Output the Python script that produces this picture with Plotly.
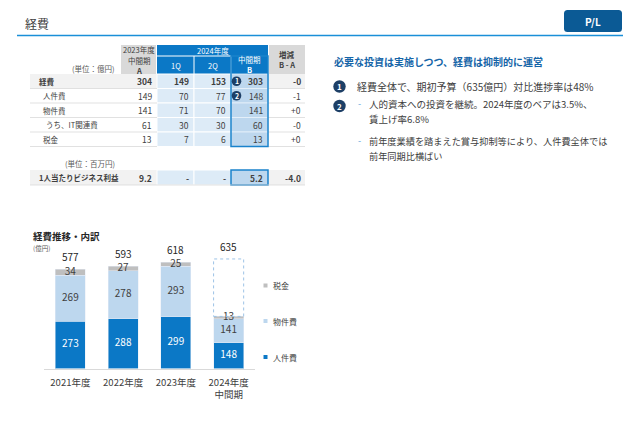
import plotly.graph_objects as go

# ---------------- data ----------------
years = ["2021年度", "2022年度", "2023年度", "2024年度<br>中間期"]
personnel = [273, 288, 299, 148]        # 人件費
nonpersonnel = [269, 278, 293, 141]     # 物件費
taxes = [34, 27, 25, 13]                # 税金
totals = [577, 593, 618, 635]
series_names = ["人件費", "物件費", "税金"]

table_rows = ["経費", "人件費", "物件費", "うち、IT関連費", "税金"]
col_A = ["304", "149", "141", "61", "13"]
col_1Q = ["149", "70", "71", "30", "7"]
col_2Q = ["153", "77", "70", "30", "6"]
col_B = ["303", "148", "141", "60", "13"]
col_diff = ["-0", "-1", "+0", "-0", "+0"]

per_capita_label = "1人当たりビジネス利益"
per_capita = ["9.2", "-", "-", "5.2", "-4.0"]

heading = "必要な投資は実施しつつ、経費は抑制的に運営"
point1 = "経費全体で、期初予算（635億円）対比進捗率は48%"
point2a = ["人的資本への投資を継続。2024年度のベアは3.5%、", "賃上げ率6.8%"]
point2b = ["前年度業績を踏まえた賞与抑制等により、人件費全体では", "前年同期比横ばい"]

# ---------------- style ----------------
W, H = 640, 443
FONT = "Noto Sans CJK JP"
DARK = "#404040"
BLUE = "#0b78c6"
LIGHT = "#bdd7ee"
PALE = "#ddebf7"
GRAY = "#bfbfbf"
NAVY = "#1d3f66"

shapes = []
ann = []


def txt(x, y, s, size=8, color=DARK, bold=False, anchor="left", ref=("x2", "y2"), yanchor="middle"):
    ann.append(dict(x=x, y=y, xref=ref[0], yref=ref[1], text=f"<b>{s}</b>" if bold else s,
                    showarrow=False, xanchor=anchor, yanchor=yanchor, borderpad=0,
                    font=dict(size=size, color=color, family=FONT)))


def rect(x0, y0, x1, y1, fill, line=None, lw=0, ref=("x2", "y2"), layer="below"):
    shapes.append(dict(type="rect", x0=x0, y0=y0, x1=x1, y1=y1, xref=ref[0], yref=ref[1],
                       fillcolor=fill, line=dict(width=lw, color=line or "rgba(0,0,0,0)"), layer=layer))


def hline(x0, x1, y, color, w=1):
    shapes.append(dict(type="line", x0=x0, x1=x1, y0=y, y1=y, xref="x2", yref="y2",
                       line=dict(color=color, width=w)))


def badge(x, y, r, label, size):
    shapes.append(dict(type="circle", x0=x - r, x1=x + r, y0=y - r, y1=y + r, xref="x2", yref="y2",
                       fillcolor=NAVY, line=dict(width=0), layer="above"))
    txt(x, y, label, size=size, color="white", bold=True, anchor="center")


def rounded(x0, y0, x1, y1, r, fill):
    p = (f"M {x0 + r},{y0} L {x1 - r},{y0} Q {x1},{y0} {x1},{y0 + r} L {x1},{y1 - r} "
         f"Q {x1},{y1} {x1 - r},{y1} L {x0 + r},{y1} Q {x0},{y1} {x0},{y1 - r} "
         f"L {x0},{y0 + r} Q {x0},{y0} {x0 + r},{y0} Z")
    shapes.append(dict(type="path", path=p, xref="x2", yref="y2", fillcolor=fill,
                       line=dict(width=0), layer="below"))


# ---------------- header ----------------
txt(24, 23, "経費", size=12, color=DARK)
hline(17, 623, 35.5, "#1a8fd8", 1.5)
rounded(564, 10, 622, 32, 3.5, "#0b5a95")
txt(593, 21, "P/L", size=10, color="white", bold=True, anchor="center")

# ---------------- table ----------------
cols = [30, 121, 157, 194, 231, 268, 305]
hdr_top, hdr_mid, hdr_bot = 45, 56, 74
row_h = 14.5
rows_y = [hdr_bot + i * row_h for i in range(len(table_rows) + 1)]

# header cells
rect(cols[1], hdr_top, cols[2] - 1, hdr_bot, "#d9d9d9")
rect(cols[5] + 1, hdr_top, cols[6], hdr_bot, "#d9d9d9")
rect(cols[2], hdr_top, cols[5], hdr_bot, BLUE)
hline(cols[2], cols[4], hdr_mid, "white", 1)
for cx in (cols[3], cols[4]):
    shapes.append(dict(type="line", x0=cx, x1=cx, y0=hdr_mid, y1=hdr_bot, xref="x2", yref="y2",
                       line=dict(color="white", width=1)))

cA = (cols[1] + cols[2]) / 2
txt(cA, 49.5, "2023年度", size=7.5, anchor="center")
txt(cA, 60, "中間期", size=7.5, anchor="center")
txt(cA, 70, "A", size=7.5, bold=True, anchor="center")
txt((cols[2] + cols[5]) / 2, 50.5, "2024年度", size=7.5, color="white", anchor="center")
txt((cols[2] + cols[3]) / 2, 65, "1Q", size=7.5, color="white", anchor="center")
txt((cols[3] + cols[4]) / 2, 65, "2Q", size=7.5, color="white", anchor="center")
txt((cols[4] + cols[5]) / 2, 59.5, "中間期", size=7.5, color="white", anchor="center")
txt((cols[4] + cols[5]) / 2, 69.5, "B", size=7.5, color="white", bold=True, anchor="center")
txt((cols[5] + cols[6]) / 2, 54, "増減", size=7.5, bold=True, anchor="center")
txt((cols[5] + cols[6]) / 2, 64.5, "B - A", size=7.5, bold=True, anchor="center")
txt(116, 68, "(単位：億円)", size=7.5, color="#595959", anchor="right")

indent = [38, 42, 42, 45, 42]
for i, name in enumerate(table_rows):
    y0, y1 = rows_y[i], rows_y[i + 1]
    yc = (y0 + y1) / 2
    bold = i == 0
    if bold:
        rect(cols[0], y0, cols[2], y1, "#f2f2f2")
        rect(cols[5], y0, cols[6], y1, "#f2f2f2")
    rect(cols[2], y0, cols[3], y1, PALE, "white", 1)
    rect(cols[3], y0, cols[4], y1, PALE, "white", 1)
    rect(cols[4], y0, cols[5], y1, LIGHT, "#e8f1fa", 0.8)
    hline(cols[0], cols[2], y1, "#d9d9d9", 0.8)
    hline(cols[5], cols[6], y1, "#d9d9d9", 0.8)
    txt(indent[i], yc, name, size=7.5, bold=bold)
    txt(cols[2] - 4, yc, col_A[i], size=8.5, bold=bold, anchor="right")
    txt(cols[3] - 4, yc, col_1Q[i], size=8.5, bold=bold, anchor="right")
    txt(cols[4] - 4, yc, col_2Q[i], size=8.5, bold=bold, anchor="right")
    txt(cols[5] - 4, yc, col_B[i], size=8.5, bold=bold, anchor="right")
    txt(cols[6] - 3, yc, col_diff[i], size=8.5, bold=bold, anchor="right")

# B column border
shapes.append(dict(type="rect", x0=cols[4], x1=cols[5], y0=hdr_mid, y1=rows_y[-1], xref="x2", yref="y2",
                   fillcolor="rgba(0,0,0,0)", line=dict(color="#1a82cc", width=1.5), layer="above"))
badge(236.5, (rows_y[0] + rows_y[1]) / 2, 4.8, "1", 7)
badge(236.5, (rows_y[1] + rows_y[2]) / 2, 4.8, "2", 7)

# per-capita row
pc_y0, pc_y1 = 170, 185
pcy = (pc_y0 + pc_y1) / 2
txt(116, 163, "(単位：百万円)", size=7.5, color="#595959", anchor="right")
rect(cols[0], pc_y0, cols[2], pc_y1, "#f2f2f2")
rect(cols[5], pc_y0, cols[6], pc_y1, "#f2f2f2")
rect(cols[2], pc_y0, cols[3], pc_y1, PALE, "white", 1)
rect(cols[3], pc_y0, cols[4], pc_y1, PALE, "white", 1)
rect(cols[4], pc_y0, cols[5], pc_y1, LIGHT, "#1a82cc", 1.5, layer="above")
hline(cols[0], cols[6], pc_y1, "#d9d9d9", 0.8)
txt(38, pcy, per_capita_label, size=7.5, bold=True)
pc_x = [cols[2] - 4, cols[3] - 4, cols[4] - 4, cols[5] - 4, cols[6] - 3]
for v, xr in zip(per_capita, pc_x):
    txt(xr, pcy, v, size=8.5, bold=True, anchor="right")

# ---------------- right-hand text ----------------
txt(333, 61, heading, size=10, color="#1565a8", bold=True)
badge(339.5, 86.5, 6.2, "1", 8)
txt(356, 86, point1, size=10)
badge(339.5, 106, 6.2, "2", 8)
txt(357, 103.5, "-", size=9, color="#5ea6dc")
txt(368, 104, point2a[0], size=9.5)
txt(368, 119, point2a[1], size=9.5)
txt(357, 140.5, "-", size=9, color="#5ea6dc")
txt(368, 141, point2b[0], size=9.2)
txt(368, 156, point2b[1], size=9.2)

# ---------------- bar chart ----------------
txt(32, 236, "経費推移・内訳", size=9.5, color="#262626", bold=True)
txt(32, 248, "(億円)", size=6.5, color="#595959")

fig = go.Figure()
fig.add_bar(x=years, y=personnel, name=series_names[0], marker_color=BLUE, showlegend=False)
fig.add_bar(x=years, y=nonpersonnel, name=series_names[1], marker_color=LIGHT, showlegend=False)
fig.add_bar(x=years, y=taxes, name=series_names[2], marker_color=GRAY, showlegend=False)

# segment labels at segment midpoints
mid_p = [p / 2 for p in personnel]
mid_n = [p + n / 2 for p, n in zip(personnel, nonpersonnel)]
mid_t = [p + n + t / 2 for p, n, t in zip(personnel, nonpersonnel, taxes)]
for mids, vals, col in ((mid_p, personnel, "white"), (mid_n, nonpersonnel, DARK), (mid_t, taxes, DARK)):
    fig.add_scatter(x=years, y=mids, mode="text", text=[str(v) for v in vals],
                    textposition="middle center", textfont=dict(size=10, color=col, family=FONT),
                    showlegend=False, hoverinfo="skip")

# totals
for xc, tv in zip(years, totals):
    ann.append(dict(x=xc, y=tv, xref="x", yref="y", text=str(tv), showarrow=False, yanchor="bottom",
                    yshift=3, font=dict(size=10, color="#262626", family=FONT)))

# 2024 budget outline (dotted) from the stacked top to the full-year budget
BW = 0.57
stack_last = personnel[-1] + nonpersonnel[-1] + taxes[-1]
shapes.append(dict(type="rect", xref="x", yref="y", x0=len(years) - 1 - BW / 2, x1=len(years) - 1 + BW / 2,
                   y0=stack_last, y1=totals[-1], fillcolor="rgba(0,0,0,0)",
                   line=dict(color="#9dc3e6", width=1, dash="dot"), layer="above"))

# manual legend
leg = [("税金", GRAY, 285.5), ("物件費", LIGHT, 321), ("人件費", BLUE, 357)]
for name, col, ly in leg:
    rect(263.5, ly - 2, 267.5, ly + 2, col, layer="above")
    txt(272, ly, name, size=8)

# ---------------- layout ----------------
base_px, top_px = 368.5, 247.75
fig.update_layout(
    width=W, height=H, margin=dict(l=0, r=0, t=0, b=0),
    paper_bgcolor="white", plot_bgcolor="rgba(0,0,0,0)",
    barmode="stack", bargap=1 - BW,
    showlegend=False,
    font=dict(family=FONT, color=DARK),
    xaxis=dict(domain=[44 / W, 255 / W], range=[-0.5, 3.5], showline=True, linecolor="#d9d9d9",
               linewidth=1, ticks="outside", ticklen=5, tickcolor="rgba(0,0,0,0)",
               tickfont=dict(size=9.5, color=DARK, family=FONT), showgrid=False, fixedrange=True),
    yaxis=dict(domain=[1 - base_px / H, 1 - top_px / H], range=[0, 700], visible=False,
               showgrid=False, fixedrange=True),
    xaxis2=dict(domain=[0, 1], range=[0, W], visible=False, anchor="y2", fixedrange=True),
    yaxis2=dict(domain=[0, 1], range=[H, 0], visible=False, anchor="x2", fixedrange=True),
    shapes=shapes, annotations=ann,
)
# invisible trace to activate the overlay (layout) axes
fig.add_scatter(x=[0], y=[0], xaxis="x2", yaxis="y2", mode="markers",
                marker=dict(opacity=0), showlegend=False, hoverinfo="skip")

fig.write_html("out.html", config={"displayModeBar": False},
               post_script="document.body.style.margin='0px';document.body.style.overflow='hidden';")
